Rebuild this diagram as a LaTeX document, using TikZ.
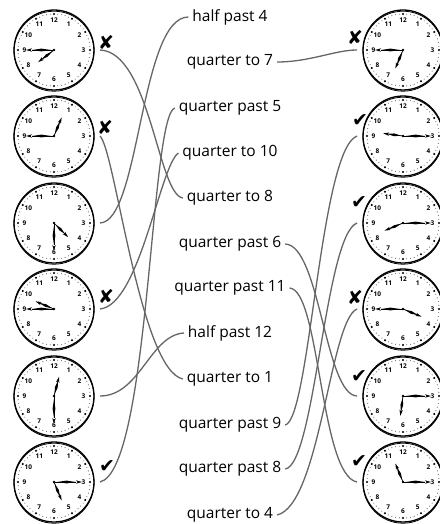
\documentclass[tikz,border=0pt]{standalone}
\usepackage{fontspec}
\setmainfont{Open Sans}
\newfontfamily\markfont{DejaVu Sans}

% one hand of a clock: centre, angle (clockwise from 3 o'clock), length
\newcommand{\clockhand}[3]{%
  \begin{scope}[shift={#1}, rotate={-(#2)}]
    \draw[line width=0.7pt] (0,0) -- ({0.8*#3},0);
    \fill ({0.1*#3},0) -- ({0.45*#3},1.4) -- ({0.78*#3},0) -- ({0.45*#3},-1.4) -- cycle;
    \fill (#3,0) -- ({#3-6},1.7) -- ({#3-4.5},0) -- ({#3-6},-1.7) -- cycle;
  \end{scope}}

% clock face: name, centre, hour, minute
\newcommand{\clockface}[4]{%
  \node[clockrim] (#1) at #2 {};
  \begin{scope}[shift={#2}]
    \draw[line width=0.8pt] (0,1.2) circle (40);
    \foreach \m in {0,...,59} \fill ({\m*6}:36) circle (0.45);
    \foreach \h in {1,...,12} {
      \fill ({\h*30-90}:36) circle (1.1);
      \node[clocknum] (#1-n\h) at ({\h*30-90}:29.5) {\h};
    }
    \fill (0,0) circle (1.4);
  \end{scope}
  \pgfmathsetmacro{\hourangle}{-90+30*(#3+#4/60)}
  \pgfmathsetmacro{\minangle}{-90+6*#4}
  \clockhand{#2}{\minangle}{28}
  \clockhand{#2}{\hourangle}{20}}

\begin{document}
\begin{tikzpicture}[x=1pt, y=-1pt,
    clockrim/.style={draw, circle, line width=1.3pt, minimum size=80pt, inner sep=0pt, outer sep=6pt},
    clocknum/.style={font=\fontsize{6.5}{7}\selectfont\bfseries, inner sep=0pt},
    timetext/.style={font=\fontsize{15.5}{18}\selectfont, inner sep=0pt, outer sep=4pt},
    tick/.style={font=\markfont\fontsize{19}{20}\selectfont, inner sep=0pt},
    link/.style={draw=black!60, line width=1.3pt}
]
\path[fill=white, use as bounding box] (0,0) rectangle (439,524);

% left clocks
\clockface{L1}{(54,50)}{7}{45}
\clockface{L2}{(54,136)}{12}{45}
\clockface{L3}{(54,223)}{4}{30}
\clockface{L4}{(54,309)}{9}{45}
\clockface{L5}{(54,396)}{12}{30}
\clockface{L6}{(54,482)}{5}{15}

% right clocks
\clockface{R1}{(403,50)}{6}{45}
\clockface{R2}{(403,136)}{9}{15}
\clockface{R3}{(403,223)}{8}{15}
\clockface{R4}{(403,309)}{3}{45}
\clockface{R5}{(403,396)}{6}{15}
\clockface{R6}{(403,482)}{11}{15}

% times
\node[timetext] (h4)   at (230,17)  {half past 4};
\node[timetext] (qt7)  at (230,62)  {quarter to 7};
\node[timetext] (qp5)  at (230,108) {quarter past 5};
\node[timetext] (qt10) at (230,153) {quarter to 10};
\node[timetext] (qt8)  at (230,198) {quarter to 8};
\node[timetext] (qp6)  at (230,244) {quarter past 6};
\node[timetext] (qp11) at (230,288) {quarter past 11};
\node[timetext] (h12)  at (230,333) {half past 12};
\node[timetext] (qt1)  at (230,379) {quarter to 1};
\node[timetext] (qp9)  at (230,425) {quarter past 9};
\node[timetext] (qp8)  at (230,469) {quarter past 8};
\node[timetext] (qt4)  at (230,515) {quarter to 4};

% marks
\node[tick] (mL1) at (106,42)  {✘};
\node[tick] (mL2) at (105,127) {✘};
\node[tick] (mL4) at (106,296) {✘};
\node[tick] (mL6) at (107,467) {✔};
\node[tick] (mR1) at (355,37)  {✘};
\node[tick] (mR2) at (360,121) {✔};
\node[tick] (mR3) at (359,203) {✔};
\node[tick] (mR4) at (355,297) {✘};
\node[tick] (mR5) at (359,377) {✔};
\node[tick] (mR6) at (359,462) {✔};

% left links
\draw[link] (L1.east) .. controls (150,52) and (158,195) .. (qt8.west);
\draw[link] (L2.east) .. controls (115,150) and (140,370) .. (qt1.west);
\draw[link] (L3.east) .. controls (140,222) and (140,17) .. (h4.west);
\draw[link] (L4.east) .. controls (140,305) and (160,165) .. (qt10.west);
\draw[link] (L5.east) .. controls (140,396) and (150,335) .. (h12.west);
\draw[link] (L6.east) .. controls (150,470) and (150,115) .. (qp5.west);

% right links
\draw[link] (qt7.east) .. controls (310,62) and (335,50) .. (R1.west);
\draw[link] (qp9.east) .. controls (310,420) and (320,150) .. (R2.west);
\draw[link] (qp8.east) .. controls (315,465) and (325,235) .. (R3.west);
\draw[link] (qt4.east) .. controls (320,505) and (330,320) .. (R4.west);
\draw[link] (qp6.east) .. controls (320,245) and (325,395) .. (R5.west);
\draw[link] (qp11.east) .. controls (320,290) and (320,475) .. (R6.west);
\end{tikzpicture}
\end{document}
